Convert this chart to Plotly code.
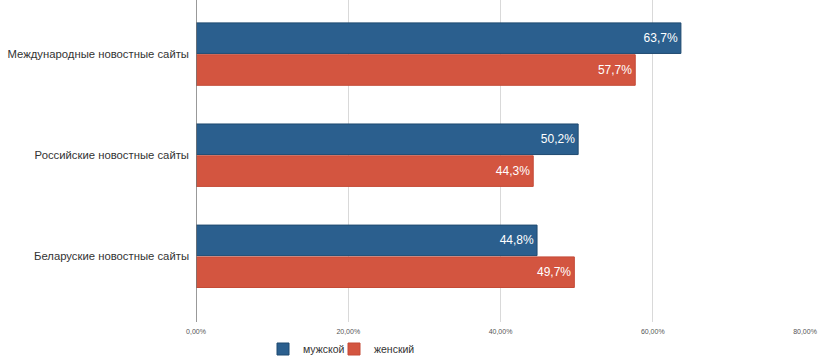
import plotly.graph_objects as go

categories = ["Международные новостные сайты", "Российские новостные сайты", "Беларуские новостные сайты"]
male = [63.7, 50.2, 44.8]
female = [57.7, 44.3, 49.7]
series_names = ["мужской", "женский"]
tick_vals = [0, 20, 40, 60, 80]
tick_text = ["0,00%", "20,00%", "40,00%", "60,00%", "80,00%"]

FONT = "Liberation Sans, Arial, sans-serif"

def fmt(v):
    return f"{v:.1f}".replace(".", ",") + "%"

fig = go.Figure()
fig.add_trace(go.Bar(
    y=categories, x=male, name=series_names[0], orientation="h", legend="legend",
    marker=dict(color="#2b5f8e", line=dict(color="#1f4a70", width=1)),
    text=[fmt(v) for v in male], textposition="inside", insidetextanchor="end",
    textfont=dict(color="white", size=12, family=FONT),
))
fig.add_trace(go.Bar(
    y=categories, x=female, name=series_names[1], orientation="h", legend="legend2",
    marker=dict(color="#d35540", line=dict(color="#c44a36", width=1)),
    text=[fmt(v) for v in female], textposition="inside", insidetextanchor="end",
    textfont=dict(color="white", size=12, family=FONT),
))

plot_w = 820 - 196 - 15
plot_h = 361 - 0 - 39
leg_y = (plot_h - 349) / plot_h

fig.update_layout(
    width=820, height=361,
    margin=dict(l=196, r=15, t=0, b=39, autoexpand=False),
    paper_bgcolor="white", plot_bgcolor="white",
    barmode="group", bargap=0.37, bargroupgap=0.04,
    font=dict(family=FONT, color="#333333"),
    showlegend=True,
    legend=dict(x=(263 - 196) / plot_w, xanchor="left", y=leg_y, yanchor="middle",
                font=dict(size=10.5, color="#333333"), itemwidth=30,
                bgcolor="rgba(0,0,0,0)"),
    legend2=dict(x=(334 - 196) / plot_w, xanchor="left", y=leg_y, yanchor="middle",
                 font=dict(size=10.5, color="#333333"), itemwidth=30,
                 bgcolor="rgba(0,0,0,0)"),
)
fig.update_xaxes(
    range=[0, 80], tickvals=tick_vals, ticktext=tick_text, automargin=False,
    showgrid=True, gridcolor="#d9d9d9", gridwidth=1,
    zeroline=False, showline=False,
    tickfont=dict(size=7, color="#555555"), ticks="", ticklabelstandoff=4,
)
fig.update_yaxes(
    categoryorder="array", categoryarray=categories, automargin=False,
    range=[2.65, -0.535],
    showgrid=False, zeroline=False, showline=False,
    tickfont=dict(size=11.3, color="#333333"), ticks="", ticklabelstandoff=6,
)
fig.add_shape(type="line", xref="x", yref="paper", x0=0, x1=0, y0=0, y1=1,
              line=dict(color="#777777", width=1.5), layer="above")

fig.write_html("out.html", config={"displayModeBar": False},
               post_script="document.body.style.margin='0';")
